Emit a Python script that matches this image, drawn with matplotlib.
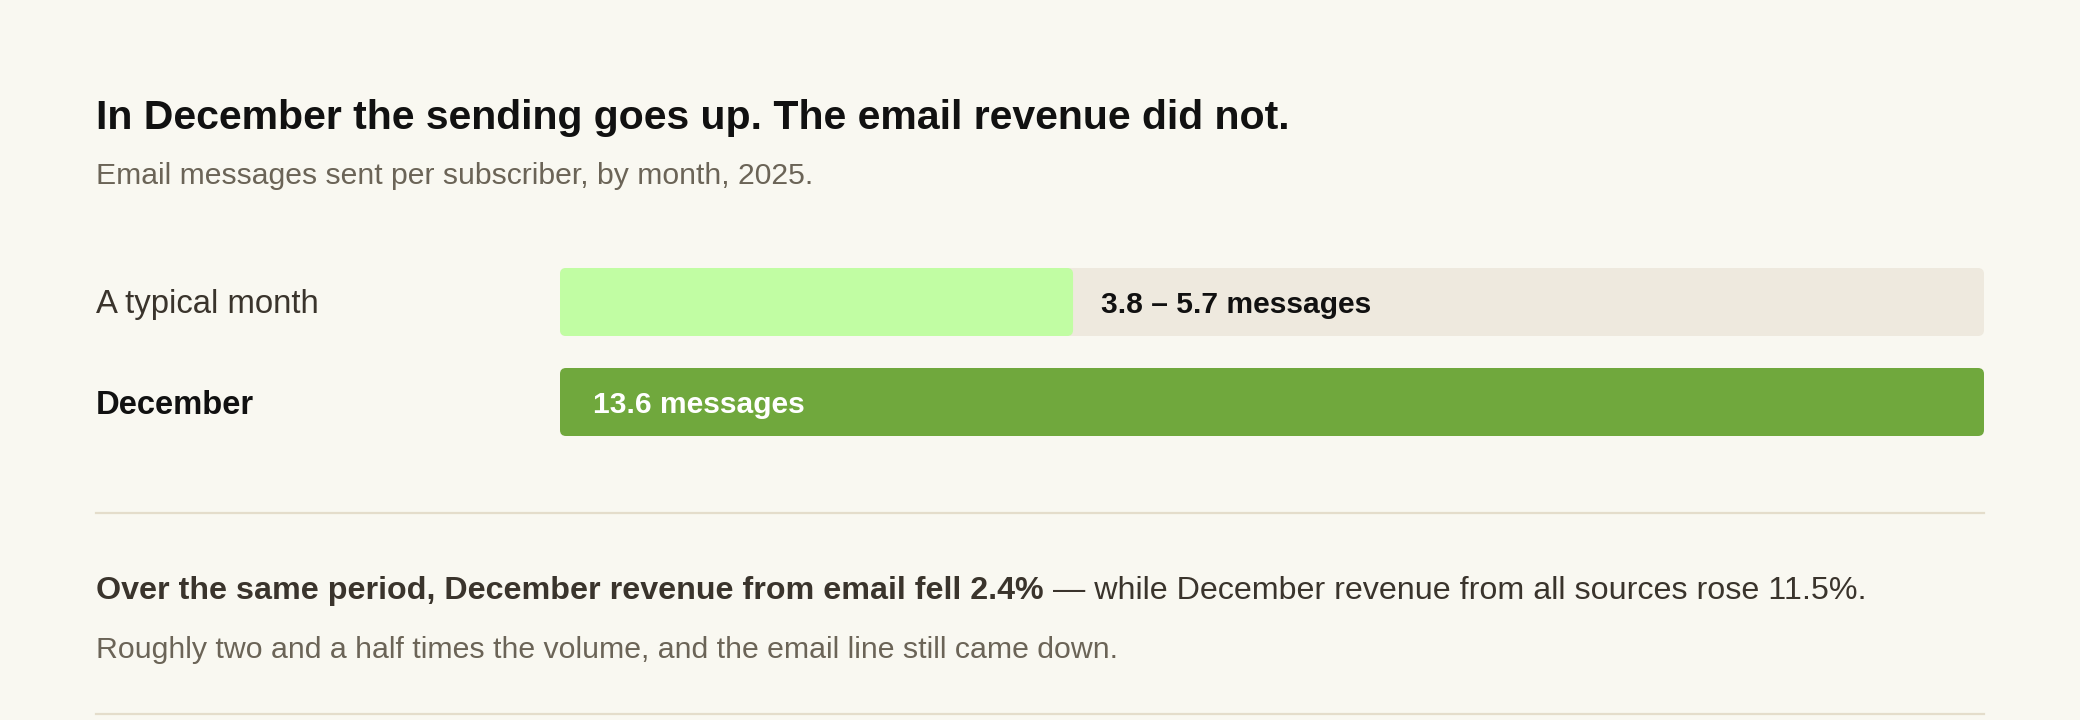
import matplotlib
matplotlib.use('Agg')
import matplotlib.pyplot as plt
from matplotlib.patches import FancyBboxPatch

plt.rcParams['font.family'] = ['Liberation Sans', 'DejaVu Sans']

# data
rows = ['A typical month', 'December']
typical_low = 3.8
typical_high = 5.7
typical_fill = 4.9      # where the light green bar stops
december = 13.6
email_change = -2.4
all_change = 11.5

title = 'In December the sending goes up. The email revenue did not.'
subtitle = 'Email messages sent per subscriber, by month, 2025.'
note_bold = f'Over the same period, December revenue from email fell {abs(email_change)}%'
note_rest = f' \u2014 while December revenue from all sources rose {all_change}%.'
note_small = 'Roughly two and a half times the volume, and the email line still came down.'

# colours
BG = '#f9f8f1'
TRACK = '#eee9de'
LIGHT = '#c1fda3'
DARK = '#70a83d'
INK = '#111111'
BROWN = '#3a342c'
MUTED = '#6b6457'
RULE = '#e4ddcb'

W, H = 2080, 720
fig = plt.figure(figsize=(W / 100, H / 100), dpi=100, facecolor=BG)

def px(x, y):
    return x / W, 1 - y / H

# headings
fig.text(*px(96, 129), title, fontsize=29.5, fontweight='bold', color=INK, va='baseline')
fig.text(*px(96, 184), subtitle, fontsize=21.7, color=MUTED, va='baseline')

# bar area
x0, x1 = 560, 1984
ytop, ybot = 268, 436
ax = fig.add_axes([x0 / W, 1 - ybot / H, (x1 - x0) / W, (ybot - ytop) / H])
ax.set_facecolor('none')
ax.set_xlim(0, december)
ax.set_ylim(1.34, -0.34)
ax.axis('off')

bw = (x1 - x0) / december       # px per message
bh = (ybot - ytop) / 1.68       # px per row unit
aspect = bw / bh
rad = 6 / bw
h = 0.68

def rbar(y, width, color, z):
    p = FancyBboxPatch((0, y - h / 2), width, h,
                       boxstyle=f'round,pad=0,rounding_size={rad}',
                       mutation_aspect=aspect, facecolor=color,
                       edgecolor='none', zorder=z)
    ax.add_patch(p)

# typical month: track + light fill
rbar(0, december, TRACK, 1)
rbar(0, typical_fill, LIGHT, 2)
# december
rbar(1, december, DARK, 1)

ax.annotate(f'{typical_low} \u2013 {typical_high} messages', (typical_fill, 0),
            xytext=(28, 0), textcoords='offset pixels', va='center_baseline',
            fontsize=21.6, fontweight='bold', color=INK)
ax.annotate(f'{december} messages', (0, 1),
            xytext=(33, 0), textcoords='offset pixels', va='center_baseline',
            fontsize=21.6, fontweight='bold', color='white')

# row labels
fig.text(*px(96, 313), rows[0], fontsize=23.7, color=BROWN, va='baseline')
fig.text(*px(96, 414), rows[1], fontsize=23.6, fontweight='bold', color=INK, va='baseline')

# rules
for yy in (513, 714):
    fig.add_artist(plt.Line2D([96 / W, x1 / W], [1 - yy / H] * 2, color=RULE, lw=1.6))

# note
t = fig.text(*px(96, 599), note_bold, fontsize=23.2, fontweight='bold', color=BROWN, va='baseline')
r = fig.canvas.get_renderer()
bb = t.get_window_extent(renderer=r)
fig.text(bb.x1 / W, 1 - 599 / H, note_rest, fontsize=23.2, color=BROWN, va='baseline')
fig.text(*px(96, 658), note_small, fontsize=21.8, color=MUTED, va='baseline')

fig.savefig('out.png', dpi=100, facecolor=BG)
